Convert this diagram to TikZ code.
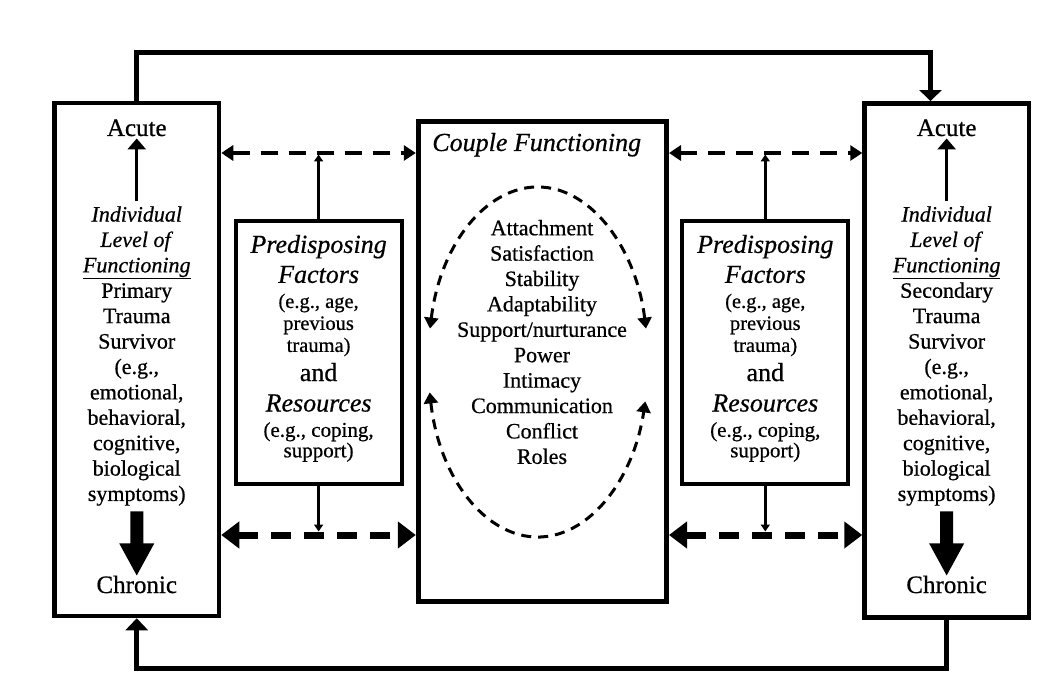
\documentclass[tikz,border=0pt]{standalone}
\usepackage{fontspec}
\setmainfont{Liberation Serif}[FakeBold=0.6]
\usetikzlibrary{arrows.meta}
\begin{document}
\begin{tikzpicture}[x=1pt,y=-1pt,
  frame/.style={draw,line width=4.5pt,inner sep=0pt},
  pfbox/.style={draw,line width=4pt,inner sep=0pt,minimum width=166pt,minimum height=263.4pt},
  txt/.style={inner sep=0pt,align=center},
  loopline/.style={line width=5pt},
  dtop/.style={line width=3.5pt,dash pattern=on 17pt off 11pt,{Triangle[length=12pt,width=15pt]}-{Triangle[length=12pt,width=15pt]}},
  dbot/.style={line width=7pt,dash pattern=on 20pt off 13pt,{Triangle[length=18pt,width=26pt]}-{Triangle[length=18pt,width=26pt]}},
  vsmall/.style={line width=3pt,-{Triangle[length=7pt,width=9pt]}},
  thinarrow/.style={line width=3pt,-{Triangle[length=11pt,width=18pt]}},
  ell/.style={line width=3pt,dash pattern=on 10pt off 7pt,{Triangle[length=11pt,width=14pt]}-{Triangle[length=11pt,width=14pt]}},
  bigword/.style={txt,font=\fontsize{25}{30}\selectfont,anchor=base},
  body/.style={txt,font=\fontsize{22}{25.4}\selectfont},
  head/.style={txt,font=\fontsize{26}{30}\selectfont\itshape},
  pfsmall/.style={txt,font=\fontsize{20.5}{22}\selectfont},
  pfmid/.style={txt,font=\fontsize{26}{30.5}\selectfont},
  pfsmalltwo/.style={txt,font=\fontsize{21}{20.5}\selectfont}
]
\useasboundingbox (0,0) rectangle (1047,674);
\fill[white] (0,0) rectangle (1047,674);

% main boxes
\node[frame,minimum width=164.5pt,minimum height=513pt] (L) at (136.75,359.5) {};
\node[frame,minimum width=164.3pt,minimum height=514pt] (R) at (946.65,360.3) {};
\node[frame,line width=5pt,minimum width=248.2pt,minimum height=479.8pt] (C) at (542.4,361.6) {};
\node[pfbox] (PL) at (318.6,352.5) {};
\node[pfbox] (PR) at (765.3,352.5) {};

% left box text
\node[bigword] (La) at (136.75,136) {Acute};
\node[body] (Lt) at (136.75,356) {\textit{Individual}\\\textit{Level of}\\\underline{\textit{Functioning}}\\Primary\\Trauma\\Survivor\\(e.g.,\\emotional,\\behavioral,\\cognitive,\\biological\\symptoms)};
\node[bigword] (Lc) at (136.75,593) {Chronic};
\draw[thinarrow,shorten >=2pt,shorten <=5pt] (Lt.north) -- (La.south);
\fill (Lc.north) -- ++(17.5,-32) -- ++(-11,0) -- ++(0,-32) -- ++(-13,0) -- ++(0,32) -- ++(-11,0) -- cycle;

% right box text
\node[bigword] (Ra) at (946.65,136) {Acute};
\node[body] (Rt) at (946.65,356) {\textit{Individual}\\\textit{Level of}\\\underline{\textit{Functioning}}\\Secondary\\Trauma\\Survivor\\(e.g.,\\emotional,\\behavioral,\\cognitive,\\biological\\symptoms)};
\node[bigword] (Rc) at (946.65,593) {Chronic};
\draw[thinarrow,shorten >=2pt,shorten <=5pt] (Rt.north) -- (Ra.south);
\fill (Rc.north) -- ++(17.5,-32) -- ++(-11,0) -- ++(0,-32) -- ++(-13,0) -- ++(0,32) -- ++(-11,0) -- cycle;

% centre box text
\node[head,anchor=base] (Ct) at (536.7,151) {Couple Functioning};
\node[body] (Cl) at (542,342) {Attachment\\Satisfaction\\Stability\\Adaptability\\Support/nurturance\\Power\\Intimacy\\Communication\\Conflict\\Roles};
\coordinate (e1) at (430,328.6);
\draw[ell] (e1) arc[start angle=191,end angle=349,x radius=110,y radius=175];
\coordinate (e2) at (429.7,392.4);
\draw[ell] (e2) arc[start angle=170,end angle=13,x radius=110,y radius=175];

% predisposing boxes text
\node[head] (PLa) at (318.6,259) {Predisposing\\Factors};
\node[pfsmall] (PLb) at (318.6,325) {(e.g., age,\\previous\\trauma)};
\node[pfmid] (PLc) at (318.6,387.4) {and\\\textit{Resources}};
\node[pfsmalltwo] (PLd) at (318.6,442) {(e.g., coping,\\support)};

\node[head] (PRa) at (765.3,259) {Predisposing\\Factors};
\node[pfsmall] (PRb) at (765.3,325) {(e.g., age,\\previous\\trauma)};
\node[pfmid] (PRc) at (765.3,387.4) {and\\\textit{Resources}};
\node[pfsmalltwo] (PRd) at (765.3,442) {(e.g., coping,\\support)};

% dashed connectors
\coordinate (yt) at (0,153);
\coordinate (yb) at (0,535);
\draw[dtop] (L.east |- yt) -- (C.west |- yt);
\draw[dtop] (C.east |- yt) -- (R.west |- yt);
\draw[dbot] (L.east |- yb) -- (C.west |- yb);
\draw[dbot] (C.east |- yb) -- (R.west |- yb);
\draw[vsmall,shorten >=1.5pt] (PL.north) -- (PL.north |- yt);
\draw[vsmall,shorten >=3.5pt] (PL.south) -- (PL.south |- yb);
\draw[vsmall,shorten >=1.5pt] (PR.north) -- (PR.north |- yt);
\draw[vsmall,shorten >=3.5pt] (PR.south) -- (PR.south |- yb);

% feedback loops
\coordinate (tl) at (930.5,53);
\draw[loopline,-{Triangle[length=11pt,width=22pt]}] (L.north) |- (tl) -- (tl |- R.north);
\coordinate (bl) at (136.75,668);
\draw[loopline,-{Triangle[length=12pt,width=22pt]}] (R.south) |- (bl) -- (L.south);
\end{tikzpicture}
\end{document}
